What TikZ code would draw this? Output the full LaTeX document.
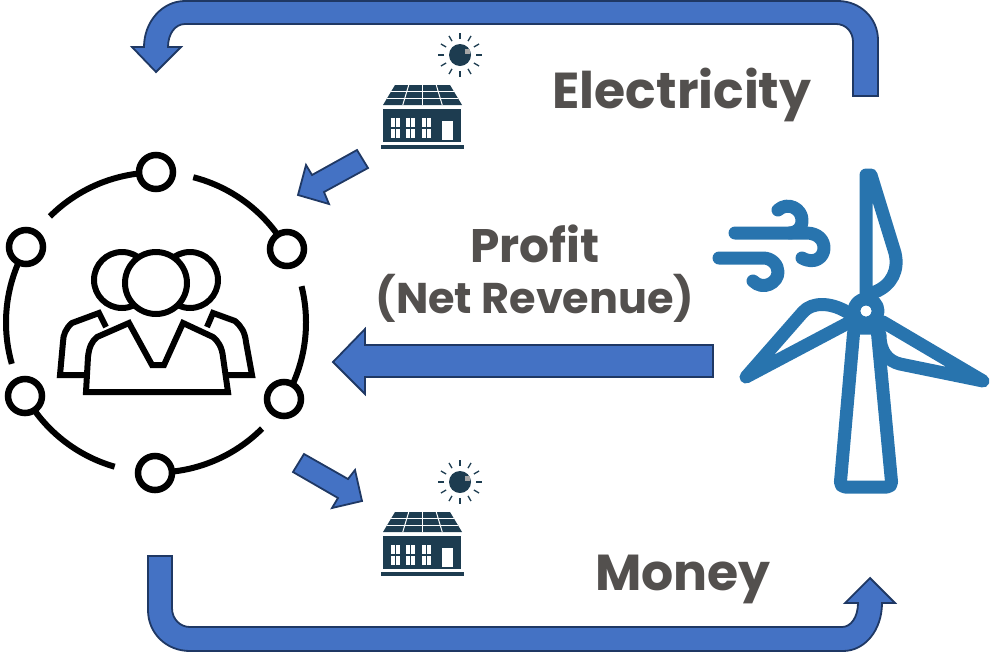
\documentclass[tikz,border=0pt]{standalone}
\usepackage{fontspec}
\setmainfont{Poppins}
\usetikzlibrary{calc}
\definecolor{arrowblue}{HTML}{4472C4}
\definecolor{arrowline}{HTML}{1F3864}
\definecolor{turbineblue}{HTML}{2874AE}
\definecolor{housenavy}{HTML}{1D3C50}
\definecolor{labelgray}{HTML}{53504E}
\tikzset{
    blockarrow/.style = {draw = arrowline, fill = arrowblue, line width = 1.8pt, line join = miter},
    biglabel/.style = {text = labelgray, font = \bfseries\fontsize{50.5}{55}\selectfont, inner sep = 0pt, anchor = base},
    midlabel/.style = {text = labelgray, font = \bfseries\fontsize{43}{50}\selectfont, inner sep = 0pt, anchor = base},
    ringnode/.style = {circle, draw = black, fill = white, line width = 6.5pt, minimum size = 34pt, inner sep = 0pt},
    ringline/.style = {line width = 6pt, black},
    peopleline/.style = {draw = black, line width = 6pt, fill = white, line join = miter},
    turbineline/.style = {line width = 13pt, turbineblue, line join = round, line cap = round},
    solarhouse/.pic = {
        \fill[housenavy] (80,15) circle (11);
        \fill[gray!70] (85,9) rectangle (90,14);
        \foreach \r in {0,30,...,330}
            \draw[housenavy, line width = 1.3pt] ($(80,15)+(\r:16pt)$) -- ($(80,15)+(\r:22pt)$);
        \fill[housenavy] (15,45) -- (70,45) -- (82,65) -- (3,65) -- cycle;
        \begin{scope}[white, line width = 1pt]
            \draw (11.4,51) -- (73.6,51);
            \draw (7.2,58) -- (77.8,58);
            \foreach \k in {1,2,3}
                \draw (15+13.75*\k,45) -- (3+19.75*\k,65);
        \end{scope}
        \fill[housenavy] (3,69) rectangle (81,102);
        \fill[housenavy] (1,105) rectangle (84,109);
        \foreach \x in {10.7,26,41.7}
            \foreach \dx/\y in {0/78,5.4/78,0/89,5.4/89}
                \fill[white] (\x+\dx,\y) rectangle ++(3.9,9);
        \fill[white] (62,81) rectangle (73,100);
    }
}
\begin{document}
\begin{tikzpicture}[x = 1pt, y = -1pt]
    \useasboundingbox (0,0) rectangle (992,654);
    \draw[blockarrow] (878,96) -- (878,40) .. controls (878,18) and (860,1) .. (838,1) -- (185,1)
        .. controls (162,1) and (144,22) .. (144,47) -- (132,47) -- (156,72) -- (181,47) -- (168,47)
        .. controls (168,34) and (175,24) .. (185,24) -- (836,24)
        .. controls (846,24) and (853,32) .. (853,42) -- (853,96) -- cycle;
    \draw[blockarrow] (148,556) -- (148,610) .. controls (148,633) and (166,651) .. (190,651) -- (843,651)
        .. controls (865,651) and (882,630) .. (882,603) -- (895,603) -- (870,578) -- (845,603) -- (858,603)
        .. controls (858,617) and (851,627) .. (842,627) -- (190,627)
        .. controls (180,627) and (172,619) .. (172,608) -- (172,556) -- cycle;
    \draw[blockarrow] (713,345) -- (365,345) -- (365,329) -- (333,362) -- (365,394) -- (365,377) -- (713,377) -- cycle;
    \draw[blockarrow] (357,150) -- (368,168) -- (324,192) -- (329,204) -- (298,195) -- (306,165) -- (312,175) -- cycle;
    \draw[blockarrow] (304,454) -- (293,472) -- (338,498) -- (332,508) -- (362,501) -- (355,470) -- (348,479) -- cycle;
    \pic (upperhouse) at (380,40) {solarhouse};
    \pic (lowerhouse) at (380,467) {solarhouse};
    \node[biglabel] (electricity) at (682,108) {Electricity};
    \node[biglabel] (money) at (683,590) {Money};
    \node[midlabel, font = \bfseries\fontsize{47}{50}\selectfont] (profit) at (535,262) {Profit};
    \node[midlabel] (revenue) at (535,313) {(Net Revenue)};
    \coordinate (ringcenter) at (156,322.5);
    \foreach \a/\b in {135/90,75.6/29,14/-30,-45/-90,254/209,196/150}
        \draw[ringline] ($(ringcenter)+(\a:150pt)$) arc[start angle = \a, end angle = \b, radius = 150pt];
    \node[ringnode] (ringa) at (156,172) {};
    \node[ringnode] (ringb) at (287,249) {};
    \node[ringnode] (ringc) at (284,399) {};
    \node[ringnode] (ringd) at (155,473) {};
    \node[ringnode] (ringe) at (25,396) {};
    \node[ringnode] (ringf) at (26,247) {};
    \draw[peopleline] (122,280) circle (28);
    \draw[peopleline] (190,280) circle (28);
    \draw[peopleline] (106,327) -- (99,313) -- (72,323) .. controls (66,328) and (63,335) .. (63,342) -- (60,375) -- (90,375);
    \draw[peopleline] (207,327) -- (213,313) -- (235,321) .. controls (241,326) and (245,332) .. (246,342) -- (252,375) -- (225,375);
    \draw[peopleline] (156,283) circle (31);
    \draw[peopleline] (86,392) -- (88,357) .. controls (89,347) and (92,341) .. (97,337) -- (129,323) -- (152,365) -- (164,365) -- (183,323)
        -- (213,337) .. controls (218,341) and (222,347) .. (223,357) -- (228,392) -- cycle;
    \begin{scope}[style = turbineline]
        \draw[rounded corners = 5pt] (840,487) -- (892,487) -- (877,328) -- (854,328) -- cycle;
        \draw (866,300) -- (866,175) -- (871,175) -- (895,253) .. controls (899,270) and (892,285) .. (875,292);
        \draw (848,323) -- (746,377) -- (803,312) .. controls (812,302) and (830,302) .. (847,312);
        \draw (883,322) -- (983,381) -- (900,364) .. controls (888,361) and (880,352) .. (880,335);
        \draw (866,311) circle (12);
        \draw (735,233) -- (806,233) .. controls (818,233) and (824,240) .. (824,248) .. controls (824,257) and (815,265) .. (802,258);
        \draw (790,233) .. controls (798,232) and (802,228) .. (802,220) .. controls (802,209) and (788,201) .. (778,210);
        \draw (719,258) -- (763,258) .. controls (772,258) and (778,265) .. (778,272) .. controls (778,283) and (763,291) .. (753,281);
    \end{scope}
    \fill[white] (866,311) circle (5.5);
\end{tikzpicture}
\end{document}
